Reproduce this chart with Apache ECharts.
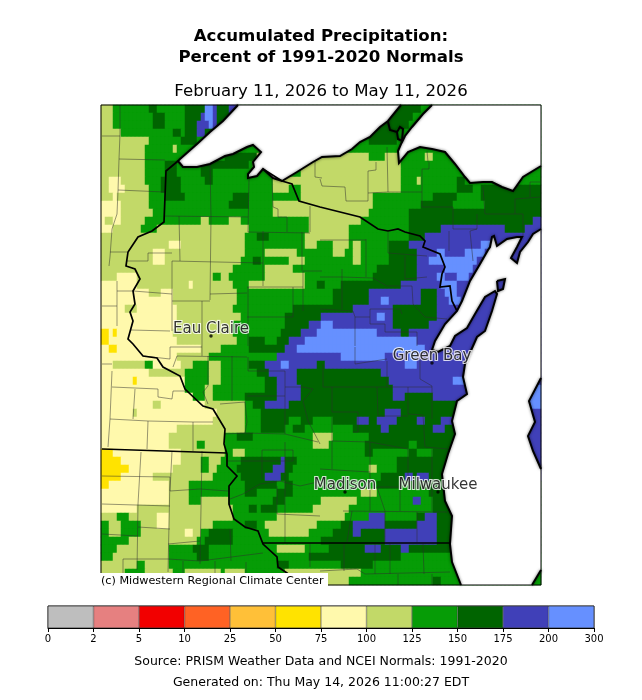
<!DOCTYPE html>
<html>
<head>
<meta charset="utf-8">
<style>html,body{margin:0;padding:0;background:#fff}#chart{width:642px;height:700px}</style>
<script src="https://cdn.jsdelivr.net/npm/echarts@6/dist/echarts.min.js"></script>
</head>
<body>
<div id="chart"></div>
<script>
// colour classes, percent of normal
const binTicks = ['0','2','5','10','25','50','75','100','125','150','175','200','300'];
const binColors = ['#bebebe','#e68080','#f20000','#ff6224','#ffc038','#ffe300','#fff9ac','#c2d968','#069c06','#006400','#4040b8','#6690ff'];
const binLetters = {Y:5,p:6,l:7,g:8,d:9,i:10,b:11};

// one string per grid row: class letter + column where that class ends (110 columns, 60 rows)
const gridRuns = [
'l3g12d14g21d26b28i29d32i34d80g83',
'l3g13d16g21d25i26b28i29d31d78g81',
'l3g13d16g21d24i27b28i29d77g79',
'l5g18d20g21d24i26d74g80',
'l12g20d24g67d74g80',
'l11g18l19g74',
'l11g31d39l67g71l75g81l83g110',
'l11g16d19g25d37g38l75g90',
'l11g16d19g25d28g50l75g91',
'l2p5l11g15d20g26d28g43l75g79l80g89d91g92',
'l2p6l12g15d20g43l47g50l75g89d93g95d110',
'l3p4l12g16d21g33d37g50l68g83d89g95d110',
'p5l12g32d37g43l68g80d88g96d110',
'p5l13g43l67g77d110',
'p1l3p5l11g25l27g32l35g52l65g77d108i110',
'p3l10g14l37g52l62g77d85i101d106i110',
'l36g39d42g51l62g77d81i110',
'l17p20l36g51l54g58l62g63l65g72d77i95b98i110',
'l13p16l36g41l49g58l61g63l65g72d79i84b86i91b96i110',
'l13p16l35g38d40g47l51g63l65g72d79i82b94i110',
'l33g41l48g69d79i86b93i110',
'l4p9l28g30l32g41l51g68d79i84b86i89b92i110',
'p9l22p23l33g37l51g54d56g60d75i85b89i110',
'p12l15p18l34g58d67i80d84i86b89i110',
'p18l34g58d67i70b72i80d84i87b90i110',
'p6l9p19l33g48d63i73d84i110',
'p19l35g46d55i69b71i73d84i110',
'p19l33g46d52i55b58i73d82i110',
'Y2p3Y4p18l33g45d50i54b69i75d77i110',
'Y2p19l34g37d41g44d47i51b79i110',
'p2Y4p25l30g37d46i49b81i110',
'p19l27g44i60b71i77b79i110',
'p3l11g13p20l23g27l30g37d41i45b47i54d56i76b79i110',
'p12l21g27l30g39d42i49d70i110',
'p8Y9p21g27l30g41d44i49d72i88b91i110',
'p21g26l28g41d44i50d73i107b110',
'p23g26l28g36d44i50d73i76d83i106b110',
'p13l15p26l36g38d41i47d106i107b110',
'p8l9p29l36g40d71i75d106i110',
'p28l36g40d47g50d53g58d64i67d69i74d79i81d85i88d107i110',
'p19l36g40d46g48d51g63d70i72d83i86d107i110',
'p17l31g34d38g53l58g67d107i110',
'p17l24g26l31g37g53l57g66d77g79d107i110',
'Y3p20l31g33l36g66d68g77d79g83d107i110',
'Y5p20l25g27l30g35d45i46d49g74d107i110',
'Y7p18l25g27l29g34d43i46d48g67l69g74d107i110',
'Y5p13l28g35d41i45d47g70d76i78d79i82d107i110',
'Y2p17l22g36d44g46d48g69d75g77d110',
'p17l22g36d39g44d48g65l69g82d110',
'p17l22g25l32g43d46g55l64g78i80g83d110',
'p9l33g37d39g40d44g53l62g83d110',
'l4g7l14p17l33g44l61g67i71g79d81i84d110',
'g2l5g10l14p17l28g36d39g41l54g60d63i71d79i84d110',
'g2l5g10l21p23l25g27d33g42l52g58d63i65d71i84d110',
'g7l24g26d33g55d71i84d110',
'g4l17g23d27g44l51g57d66i70d75i77d110',
'g3l17g24d27g52d75g110',
'l9g11l17g44d47g60d68g110',
'l6g11l18g21l30g31l36g46l65g110',
'l62g83d85g110'
];

// lake outlines, map axis units
const lakeSuperiorWest = [[238,105],[223,121],[210,132],[197,144],[180,159],[178,161],[183,167],[197,167],[210,164],[225,156],[233,154],[247,147],[253,145],[261,152],[253,162],[254,167],[248,174],[248,178],[257,176],[263,169],[273,178],[282,181],[297,172],[313,162],[322,157],[340,156],[352,149],[360,142],[370,137],[380,127],[388,121],[401,105]];
const lakeSuperiorEast = [[432,105],[423,114],[412,127],[405,136],[401,144],[398,151],[399,163],[408,152],[420,147],[432,149],[445,152],[455,164],[465,177],[470,183],[483,182],[492,182],[502,187],[513,191],[523,177],[541,166]];
const greenBayShore = [[541,229],[533,234],[528,242],[520,252],[517,263],[511,258],[517,247],[522,237],[517,237],[507,239],[497,246],[494,236],[492,237],[490,247],[488,250],[480,264],[470,281],[462,301],[457,311],[445,324],[435,341],[432,350],[438,352],[450,346],[455,336],[467,328],[475,314],[485,297],[495,291],[497,294],[492,311],[485,331],[477,337],[473,346],[465,364],[463,377],[467,394],[457,401],[452,421],[455,434],[448,454],[442,474],[445,501],[452,516],[450,544],[452,562],[461,585]];
const michiganShoreSouth = [[532,585],[541,570]];
const michiganShoreEast = [[541,469],[533,451],[528,436],[535,422],[529,401],[541,378]];
const washingtonIsland = [[497,281],[505,279],[503,289],[498,291],[497,281]];
const portageLoop = [[388,122],[390,130],[397,132],[398,139],[402,141],[403,129],[400,127],[397,132]];

// state borders
const stateBorders = [
[[178,161],[172,166],[166,171],[164,222],[152,231],[138,237],[128,252],[126,266],[135,269],[140,279],[133,291],[135,304],[130,312],[133,321],[128,339],[133,344],[143,356],[157,358],[163,367],[180,376],[185,389],[203,406],[213,409],[225,429],[224,444],[227,454],[227,466],[237,476],[229,486],[229,504],[234,519],[245,527],[258,531],[263,544],[277,557],[278,567],[287,573],[300,585]],
[[102,449],[227,453]],
[[263,543],[450,543]],
[[263,169],[282,181],[292,184],[299,201],[320,207],[360,217],[378,229],[388,231],[398,229],[405,232],[420,236],[425,241],[423,247],[440,254],[445,267],[442,274],[440,287],[450,286],[452,301],[457,311]]
];

// county lines
const countyLines = [
[[120,105],[120,134],[119,159],[118,191],[117,214],[112,229],[110,257],[109,266]],
[[102,136],[120,136]],[[119,159],[165,160]],[[118,190],[165,192]],[[165,216],[248,217]],
[[179,216],[180,261]],[[210,161],[211,217],[210,300]],[[249,179],[248,232]],[[172,261],[263,263]],
[[172,261],[172,331]],[[110,252],[127,252]],[[148,253],[172,253]],[[148,253],[148,261],[127,261]],
[[133,291],[172,294]],[[172,301],[210,301]],[[202,301],[202,347]],[[210,294],[247,293]],[[247,287],[303,287]],
[[248,232],[310,233]],[[263,231],[263,286]],[[302,232],[302,271]],[[303,271],[322,271]],[[303,271],[303,311]],
[[247,317],[293,317]],[[293,287],[293,317]],[[248,287],[248,346]],[[102,306],[117,306]],[[117,281],[117,326]],
[[117,291],[133,291]],[[131,330],[170,331]],
[[272,179],[273,207],[278,209],[278,217],[287,217],[287,232]],[[310,206],[310,232]],[[315,159],[315,177],[322,178]],
[[320,179],[322,186],[345,187],[346,201],[368,201],[368,171],[376,170],[376,162]],
[[387,147],[388,192],[422,192]],[[368,193],[388,192]],[[422,169],[429,169],[429,162]],[[422,169],[422,207]],[[427,151],[428,162]],
[[483,187],[485,214]],[[515,199],[540,197]],[[515,199],[515,214]],[[530,182],[540,182]],[[530,182],[530,197]],
[[422,207],[453,207],[453,229]],[[485,214],[523,214],[523,237]],[[477,214],[477,229],[453,229]],[[477,229],[470,231],[473,261]],
[[449,231],[449,251]],[[388,232],[388,253],[427,256]],[[405,256],[405,279],[427,277]],[[366,239],[366,277]],[[320,240],[366,240]],
[[342,269],[342,277],[373,278],[387,286],[412,286],[413,304]],[[342,277],[342,309]],[[320,277],[342,277]],
[[320,309],[353,311],[355,317],[370,317],[370,309],[400,309],[402,314]],[[355,317],[355,346]],
[[370,317],[370,324],[385,324],[385,332],[417,332],[417,346]],[[413,304],[425,317],[447,319]],
[[112,371],[110,419],[108,447]],[[102,364],[112,364]],
[[112,387],[158,389],[158,397],[172,399],[173,391],[185,391]],[[135,389],[133,419]],
[[110,419],[148,421],[193,422],[213,422]],[[148,421],[147,449]],[[193,422],[193,451]],
[[141,452],[138,504],[137,570]],[[102,476],[170,477],[168,572]],[[172,451],[170,491],[200,489],[228,491]],
[[202,451],[200,564]],[[102,504],[170,506]],[[102,534],[138,536]],[[138,527],[170,529]],[[168,544],[200,541]],
[[123,559],[168,559],[200,561],[263,553]],[[123,559],[123,573]],[[183,561],[183,573]],[[215,561],[215,573]],
[[230,529],[231,561]],[[246,562],[246,573]],[[170,347],[170,359],[143,356]],[[170,347],[202,347],[202,356]],
[[177,356],[247,357]],[[177,356],[173,367]],[[208,356],[208,386],[203,392],[208,404]],[[232,356],[232,401]],
[[220,404],[245,402],[247,422],[245,433],[225,434]],[[247,396],[285,396],[285,434],[318,442]],
[[248,357],[248,371],[285,371],[285,396]],[[245,433],[285,434]],[[303,387],[313,389],[303,401],[308,421],[320,444]],
[[285,387],[303,387]],[[228,461],[293,461]],[[262,450],[293,450],[293,461]],[[262,450],[262,479]],
[[230,499],[243,494],[260,484],[280,481],[300,486],[322,481]],[[277,486],[277,514],[320,516]],[[285,442],[285,543]],[[310,544],[310,567]],
[[323,364],[323,387],[377,387]],[[332,387],[332,412],[358,412],[358,432],[353,432]],[[377,387],[378,416],[408,416]],
[[408,387],[408,414]],[[377,387],[432,387]],[[387,361],[387,387]],[[355,347],[355,364],[387,359]],
[[420,359],[420,379],[432,386],[432,419]],[[408,414],[423,415],[425,447],[448,449]],[[370,442],[370,511]],
[[332,441],[370,442],[408,449]],[[332,417],[332,469]],[[320,469],[370,472]],[[408,449],[408,477]],[[432,449],[432,511]],
[[400,487],[400,511]],[[377,487],[400,487]],[[377,487],[385,511]],[[343,511],[447,512]],[[352,511],[347,542]],
[[385,511],[385,542]],[[417,512],[417,542]],[[344,544],[344,571]],[[375,544],[375,574]],[[390,544],[390,574]],
[[423,544],[424,574]],[[320,571],[357,569],[365,574],[450,572]],[[398,574],[398,585]],[[432,574],[432,585]]
];

// cities
const cityNames = ['Eau Claire','Green Bay','Madison','Milwaukee'];
const cityPoints = [[211,336],[432,363],[345,492],[438,492]];

const titleLines = [
  {text:'Accumulated Precipitation:', top:28, size:16.6, weight:'bold'},
  {text:'Percent of 1991-2020 Normals', top:49, size:16.6, weight:'bold'},
  {text:'February 11, 2026 to May 11, 2026', top:83, size:16.6, weight:'normal'},
  {text:'Source: PRISM Weather Data and NCEI Normals: 1991-2020', top:655, size:12.5, weight:'normal'},
  {text:'Generated on: Thu May 14, 2026 11:00:27 EDT', top:676, size:12.5, weight:'normal'}
];

const fontName = 'DejaVu Sans';
const mapRect = {left:101, top:105, width:440, height:480};
const numCols = 110, numRows = gridRuns.length;

// expand runs into heatmap cells
function buildCells() {
  const cells = [];
  gridRuns.forEach((runs, row) => {
    let col = 0, last = 7;
    for (const m of runs.matchAll(/([a-zA-Z])(\d+)/g)) {
      last = binLetters[m[1]];
      for (; col < +m[2]; col++) cells.push([col, row, last]);
    }
    for (; col < numCols; col++) cells.push([col, row, last]);
  });
  return cells;
}

function range(n) { return Array.from({length:n}, (_, i) => String(i)); }

// polylines/polygons through the map axes
function pathSeries(name, paths, shape, style, z) {
  return {
    name, type:'custom', coordinateSystem:'cartesian2d', xAxisIndex:1, yAxisIndex:1, z, silent:true,
    animation:false, data:paths.map((p, i) => [i]),
    renderItem(params, api) {
      return {type:shape, shape:{points:paths[params.dataIndex].map(p => api.coord(p))}, style, silent:true};
    }
  };
}

const lakePolygons = [
  lakeSuperiorWest,
  lakeSuperiorEast.concat([[541,105]]),
  greenBayShore.concat(michiganShoreSouth, michiganShoreEast)
];
const coastLines = [lakeSuperiorWest, lakeSuperiorEast, greenBayShore, michiganShoreSouth, michiganShoreEast, washingtonIsland, portageLoop];

const chart = echarts.init(document.getElementById('chart'), null, {renderer:'canvas'});
const coastStyle = {fill:'none', stroke:'#000', lineWidth:2, shadowBlur:3, shadowColor:'rgba(0,0,0,0.6)'};

chart.setOption({
  animation:false,
  backgroundColor:'#fff',
  textStyle:{fontFamily:fontName},
  title:titleLines.map(t => ({
    text:t.text, left:'center', top:t.top, padding:0,
    textStyle:{fontFamily:fontName, fontSize:t.size, fontWeight:t.weight, color:'#000'}
  })),
  grid:[
    Object.assign({show:false}, mapRect),
    Object.assign({show:false}, mapRect),
    {left:48, top:606, width:546, height:22, show:true, borderColor:'#000', borderWidth:1}
  ],
  xAxis:[
    {type:'category', gridIndex:0, data:range(numCols), show:false},
    {type:'value', gridIndex:1, min:101, max:541, show:false, splitLine:{show:false}},
    {type:'value', gridIndex:2, min:0, max:12, interval:1, splitLine:{show:false},
     axisLine:{show:true, lineStyle:{color:'#000'}},
     axisTick:{show:true, length:4, lineStyle:{color:'#000'}},
     axisLabel:{show:true, fontSize:10, margin:6, color:'#000', fontFamily:fontName, hideOverlap:false, showMinLabel:true, showMaxLabel:true,
       formatter:v => binTicks[v]}}
  ],
  yAxis:[
    {type:'category', gridIndex:0, data:range(numRows), inverse:true, show:false},
    {type:'value', gridIndex:1, min:105, max:585, inverse:true, show:false, splitLine:{show:false}},
    {type:'category', gridIndex:2, data:['bins'], show:false}
  ],
  visualMap:{
    type:'piecewise', show:false, seriesIndex:0, dimension:2,
    pieces:binColors.map((c, i) => ({value:i, color:c}))
  },
  series:[
    {type:'heatmap', xAxisIndex:0, yAxisIndex:0, data:buildCells(), progressive:0, animation:false, silent:true, z:1,
     itemStyle:{borderWidth:0}, emphasis:{disabled:true}},
    pathSeries('counties', countyLines, 'polyline', {fill:'none', stroke:'rgba(45,45,45,0.62)', lineWidth:0.8}, 2),
    pathSeries('lakes', lakePolygons, 'polygon', {fill:'#fff', stroke:'none'}, 3),
    pathSeries('island', [washingtonIsland], 'polygon', {fill:binColors[10], stroke:'none'}, 4),
    pathSeries('coast', coastLines, 'polyline', coastStyle, 5),
    pathSeries('states', stateBorders, 'polyline', {fill:'none', stroke:'#000', lineWidth:1.7}, 5),
    pathSeries('frame', [[[101,573],[101,105],[541,105],[541,585],[328,585]]], 'polyline', {fill:'none', stroke:'#000', lineWidth:1}, 6),
    {type:'scatter', xAxisIndex:1, yAxisIndex:1, z:7, silent:true, symbolSize:3.5, animation:false,
     itemStyle:{color:'#000'},
     data:cityPoints.map((p, i) => ({name:cityNames[i], value:p})),
     label:{show:true, position:'top', distance:-2, formatter:'{b}', fontFamily:fontName, fontSize:15, color:'#000',
       textBorderColor:'#fff', textBorderWidth:2.2}},
    ...binColors.map(c => ({
      type:'bar', xAxisIndex:2, yAxisIndex:2, stack:'bins', data:[1], barWidth:'100%', silent:true, animation:false,
      itemStyle:{color:c, borderColor:'rgba(0,0,0,0.6)', borderWidth:0.5}
    }))
  ],
  graphic:[
    {type:'rect', z:100, shape:{x:95, y:573, width:233, height:18}, style:{fill:'#fff'}},
    {type:'text', z:101, x:101, y:576, style:{text:'(c) Midwestern Regional Climate Center', fontFamily:fontName, fontSize:11.2, fill:'#000'}}
  ]
});
</script>
</body>
</html>
